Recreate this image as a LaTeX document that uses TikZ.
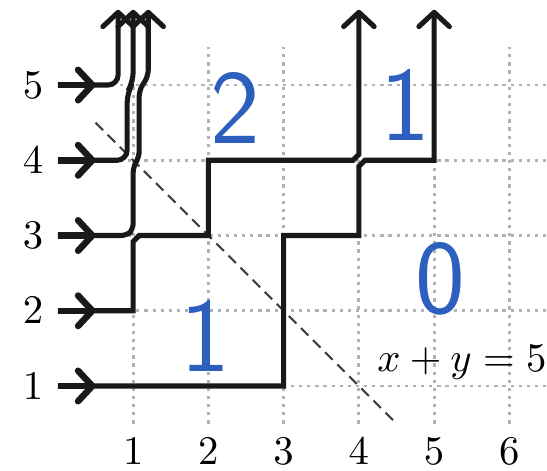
\documentclass[tikz,border=0pt]{standalone}
\usepackage{amsmath, amssymb}
\usepackage{tikz}
\usetikzlibrary{calc, arrows.meta}
\definecolor{penblue}{RGB}{45,95,190}

\begin{document}
\begin{tikzpicture}[scale = .65, lpath/.style={line width=1.25pt, black!90}, arr/.style={-{Straight Barb[length=3.5pt, width=7.5pt, round]}}, gridline/.style={gray!60, line width=.7pt, dash pattern=on .8pt off 1.2pt}, diag/.style={black!75, line width=.55pt, dash pattern=on 2.6pt off 1.6pt}, pen/.style={penblue, font=\sffamily\fontsize{26}{30}\selectfont}]
            \useasboundingbox (-0.77,-0.12) rectangle (6.5,6.13);
            \draw[gridline] (0.5,0.5) grid (6.5,5.5);
            \draw[diag] (0.5,4.5)--(4.5,0.5);
            %Axis labels and entry arrows
            \foreach \x in {1, 2, 3, 4, 5, 6}
                \draw node (xl\x) at (\x, 0.13) {$\x$};
            \foreach \y in {1, 2, 3, 4, 5}
                {\draw node (yl\y) at (-0.33, \y) {$\y$};
                \draw[lpath, arr, line width=1.6pt] (0, \y)--(0.5, \y);}
            %Lattice paths
            \draw[lpath, arr] (0,1)--(3,1)--(3,3)--(4,3)--(4,3.92)--(4.08,4)--(5,4)--(5,6);
            \draw[lpath, arr] (0,2)--(1,2)--(1,2.92)--(1.08,3)--(2,3)--(2,4)--(3.92,4)--(4,4.08)--(4,6);
            \draw[lpath, arr, rounded corners=1.5pt] (0,3)--(0.92,3)--(1,3.08)--(1,3.92)--(1.08,4.04)--(1.08,4.93)--(1.2,5.12)--(1.2,6);
            \draw[lpath, arr, rounded corners=2.5pt] (0,4)--(0.92,4)--(0.92,4.9)--(1,5.04)--(1,6);
            \draw[lpath, arr, rounded corners=2.5pt] (0,5)--(0.8,5)--(0.8,6);
            %Line label
            \draw node (line) at (5.37, 1.32) {$x + y = 5$};
            %Handwritten counts
            \draw node (two) at (2.36, 4.69) [pen] {2};
            \draw node (oneup) at (4.62, 4.73) [pen] {1};
            \draw node (zero) at (5.08, 2.43) [pen] {0};
            \draw node (onelow) at (1.96, 1.67) [pen] {1};
\end{tikzpicture}
\end{document}
